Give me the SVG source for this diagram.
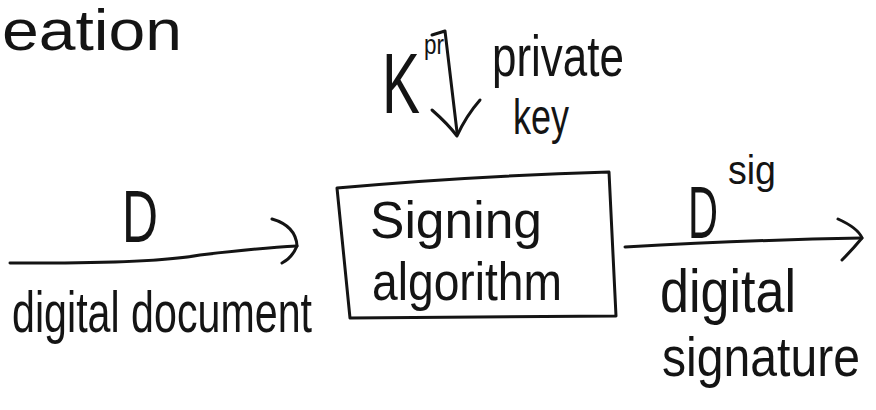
<svg xmlns="http://www.w3.org/2000/svg" width="876" height="410" viewBox="0 0 876 410">
<style>
.t{font-family:"Liberation Sans","DejaVu Sans",sans-serif;fill:#141414;}
.s{fill:none;stroke:#141414;stroke-width:3;stroke-linecap:round;stroke-linejoin:round;}
</style>
<rect width="876" height="410" fill="#ffffff"/>
<g id="title">
<text class="t" x="2" y="50" font-size="58" textLength="180" lengthAdjust="spacingAndGlyphs">eation</text>
</g>
<g id="key">
<text class="t" x="382" y="113" font-size="86" textLength="38" lengthAdjust="spacingAndGlyphs">K</text>
<text class="t" x="424" y="54" font-size="28" textLength="20" lengthAdjust="spacingAndGlyphs">pr</text>
<text class="t" x="492" y="76" font-size="58" textLength="132" lengthAdjust="spacingAndGlyphs">private</text>
<text class="t" x="513" y="134" font-size="50" textLength="56" lengthAdjust="spacingAndGlyphs">key</text>
</g>
<g id="signing">
<path class="s" d="M337,188 Q470,176 609,172 L616,316 L350,318 Z"/>
<text class="t" x="370" y="238" font-size="52" textLength="172" lengthAdjust="spacingAndGlyphs">Signing</text>
<text class="t" x="372" y="300" font-size="54" textLength="190" lengthAdjust="spacingAndGlyphs">algorithm</text>
</g>
<g id="input">
<text class="t" x="122" y="242" font-size="74" textLength="36" lengthAdjust="spacingAndGlyphs">D</text>
<text class="t" x="12" y="332" font-size="58" textLength="300" lengthAdjust="spacingAndGlyphs">digital document</text>
</g>
<g id="output">
<text class="t" x="688" y="238" font-size="74" textLength="30" lengthAdjust="spacingAndGlyphs">D</text>
<text class="t" x="728" y="184" font-size="40" textLength="48" lengthAdjust="spacingAndGlyphs">sig</text>
<text class="t" x="660" y="312" font-size="62" textLength="136" lengthAdjust="spacingAndGlyphs">digital</text>
<text class="t" x="662" y="376" font-size="56" textLength="198" lengthAdjust="spacingAndGlyphs">signature</text>
</g>
<g id="connectors">
<path class="s" d="M432,35 L445,31 L457,132"/>
<path class="s" d="M432,110 Q448,124 457,136 Q466,116 480,100"/>
<path class="s" d="M10,263 Q150,264 200,255 Q260,248 297,246"/>
<path class="s" d="M272,219 Q296,226 297,246 Q292,258 282,263"/>
<path class="s" d="M625,247 Q750,240 862,238"/>
<path class="s" d="M838,219 Q858,228 862,238 Q852,250 842,260"/>
</g>
</svg>
